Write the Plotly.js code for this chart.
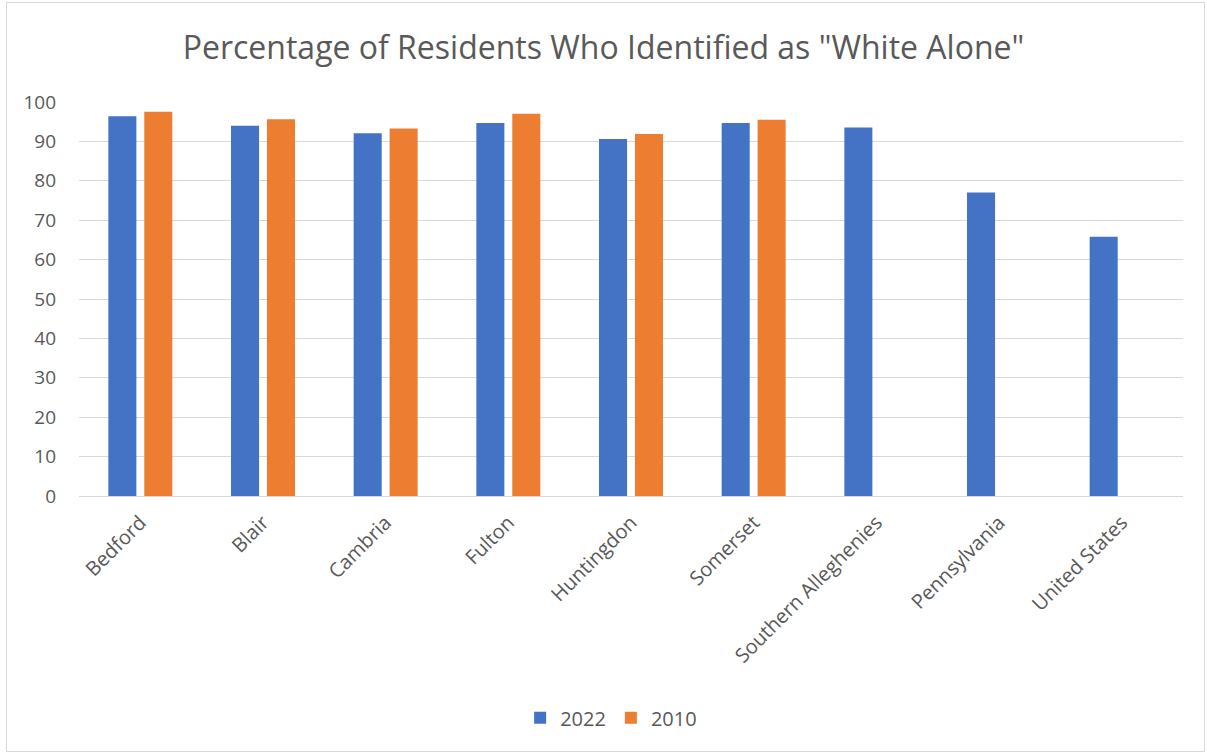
<!DOCTYPE html>
<html><head><meta charset="utf-8">
<script src="https://cdn.plot.ly/plotly-3.0.1.min.js"></script>
<style>html,body{margin:0;padding:0;background:#fff}#wrap{position:absolute;left:6px;top:2px;width:1199px;height:750px;border:1px solid #d9d9d9;box-sizing:border-box}#chart{position:absolute;left:-7px;top:-3px;width:1207px;height:754px}</style>
</head><body><div id="wrap"><div id="chart"></div></div>
<script>
const categories = ["Bedford","Blair","Cambria","Fulton","Huntingdon","Somerset","Southern Alleghenies","Pennsylvania","United States"];
const values2022 = [96.4, 94.0, 92.1, 94.7, 90.6, 94.7, 93.5, 77.0, 65.8];
const values2010 = [97.5, 95.6, 93.3, 97.0, 91.9, 95.5, null, null, null];
const yTicks = [0,10,20,30,40,50,60,70,80,90,100];

const traces = [
  {type:'bar', name:'2022', x:categories, y:values2022, marker:{color:'#4472C4'}, hoverinfo:'x+y'},
  {type:'bar', name:'2010', x:categories, y:values2010, marker:{color:'#ED7D31'}, hoverinfo:'x+y'}
];
const layout = {
  width:1207, height:754,
  paper_bgcolor:'rgba(0,0,0,0)', plot_bgcolor:'#fff',
  font:{family:'"Open Sans", sans-serif', color:'#595959', size:19},
  title:{text:'Percentage of Residents Who Identified as "White Alone"', font:{size:32, color:'#595959', family:'"Open Sans", sans-serif'}, x:0.5, xanchor:'center', y:0.937, yanchor:'middle'},
  margin:{l:79, r:24, t:102, b:258},
  barmode:'group', bargap:0.414, bargroupgap:0.22,
  xaxis:{type:'category', tickangle:-45, showline:true, linecolor:'#d9d9d9', linewidth:1, ticks:'', tickfont:{size:20, color:'#595959'}, showgrid:false, ticklabelstandoff:6},
  yaxis:{range:[0,100], tickvals:yTicks, ticktext:yTicks.map(String), showgrid:true, gridcolor:'#d9d9d9', gridwidth:1, zeroline:false, showline:false, ticks:'', tickfont:{size:19,color:'#595959'}, ticklabelstandoff:22},
  legend:{orientation:'h', x:0.482, xanchor:'center', y:-0.563, yanchor:'middle', font:{size:20,color:'#595959'}, traceorder:'normal', itemwidth:30},
  showlegend:true
};
Plotly.newPlot('chart', traces, layout, {displayModeBar:false, staticPlot:true});
</script></body></html>
